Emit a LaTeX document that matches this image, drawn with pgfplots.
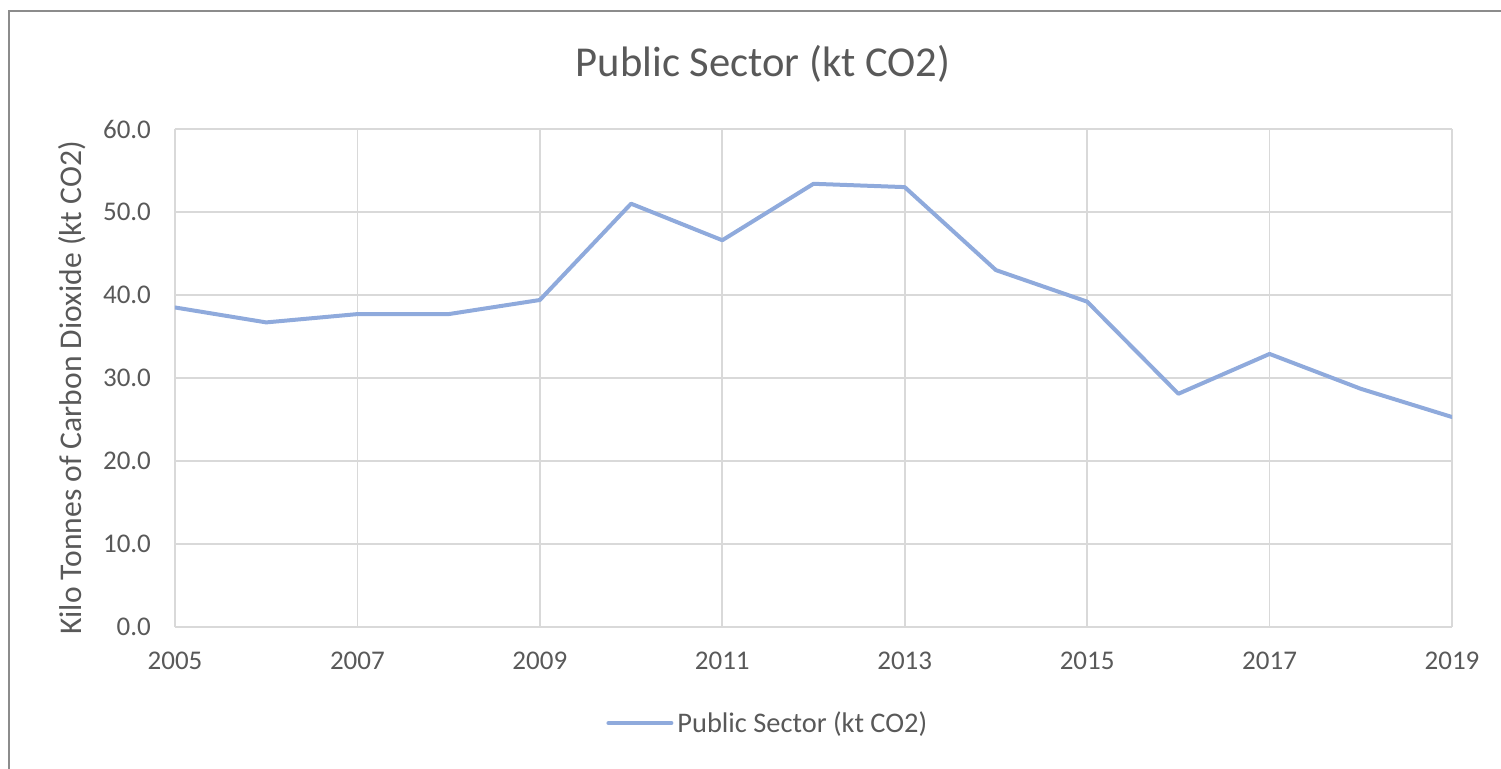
\documentclass[border=0pt]{standalone}
\usepackage{fontspec}
\setmainfont{Carlito}
\usepackage{pgfplots}
\pgfplotsset{compat=1.18}
\definecolor{txt}{HTML}{595959}
\definecolor{gridc}{HTML}{D9D9D9}
\definecolor{ser}{HTML}{8FAADC}
\definecolor{frm}{HTML}{8C8C8C}
\begin{document}
\begin{tikzpicture}
\useasboundingbox (0,0) rectangle (750.5pt,384pt);
\draw[frm, line width=1pt] (4.25pt,-2pt) -- (4.25pt,378.25pt) -- (752pt,378.25pt);
\begin{axis}[
  scale only axis,
  width=638.5pt, height=249pt,
  at={(87.5pt,70.5pt)}, anchor=south west,
  xmin=2005, xmax=2019, ymin=0, ymax=60,
  xtick={2005,2007,...,2019},
  ytick={0,10,...,60},
  major tick length=0pt,
  grid=major,
  grid style={gridc, line width=0.8pt},
  axis line style={gridc, line width=0.8pt},
  axis x line*=bottom, axis y line*=left,
  /pgf/number format/assume math mode=true,
  xticklabel style={/pgf/number format/1000 sep={}, font=\fontsize{13.5pt}{15pt}\selectfont, text=txt, yshift=-9pt},
  yticklabel style={/pgf/number format/fixed, /pgf/number format/fixed zerofill, /pgf/number format/precision=1, font=\fontsize{13.5pt}{15pt}\selectfont, text=txt, xshift=-8.5pt},
  title={Public Sector (kt CO2)},
  title style={at={(axis description cs:0.4605,1.107)}, anchor=center, font=\fontsize{21.3pt}{24pt}\selectfont, text=txt},
  ylabel={Kilo Tonnes of Carbon Dioxide (kt CO2)},
  every axis y label/.style={at={(axis description cs:-0.0805,0.48)}, rotate=90, anchor=center, font=\fontsize{15.8pt}{18pt}\selectfont, text=txt},
  legend style={at={(axis description cs:0.465,-0.193)}, anchor=center, draw=none, fill=none, font=\fontsize{14.2pt}{16pt}\selectfont, text=txt, inner sep=0pt},
  legend cell align=left,
  legend image code/.code={\draw[#1, line cap=round] (0pt,0pt) -- (31.5pt,0pt);},
]
\addplot[ser, line width=2pt, line join=round, line cap=round] coordinates {
(2005,38.5) (2006,36.7) (2007,37.7) (2008,37.7) (2009,39.4) (2010,51.0)
(2011,46.6) (2012,53.4) (2013,53.0) (2014,43.0) (2015,39.2) (2016,28.1)
(2017,32.9) (2018,28.7) (2019,25.3)
};
\addlegendentry{Public Sector (kt CO2)}
\end{axis}
\end{tikzpicture}
\end{document}
